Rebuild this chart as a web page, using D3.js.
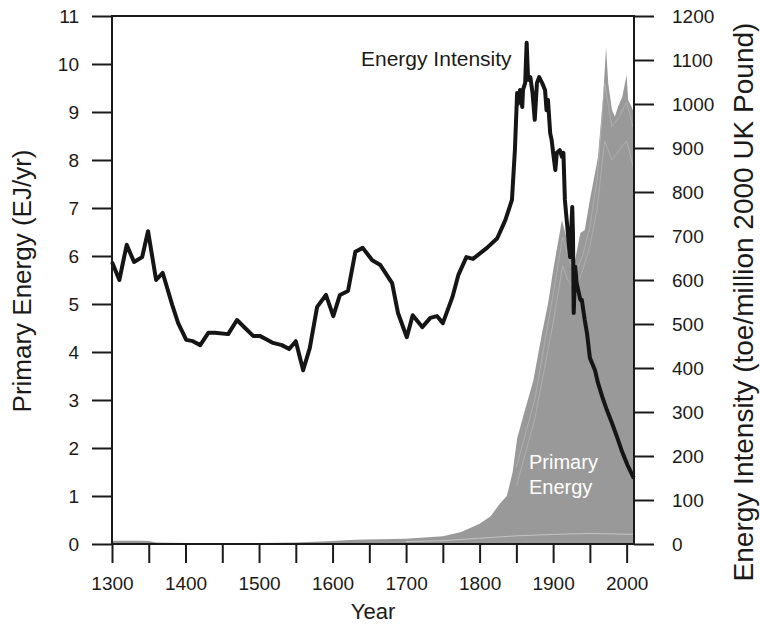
<!DOCTYPE html>
<html>
<head>
<meta charset="utf-8">
<script src="https://cdn.jsdelivr.net/npm/d3@7"></script>
<style>
  body { margin: 0; background: #fff; }
  svg { font-family: "Liberation Sans", Arial, Helvetica, sans-serif; }
  .axis text { fill: #1a1a1a; font-size: 19px; }
  .axis line { stroke: #1a1a1a; stroke-width: 2; }
</style>
</head>
<body>
<script>
// energy intensity (toe / million 2000 UK pound)
var eiYears = [1300,1310,1320,1330,1341,1349,1360,1369,1382,1390,1401,1410,1420,1431,1440,1458,1470,1481,1492,1501,1511,1519,1531,1541,1550,1560,1569,1579,1591,1601,1610,1621,1631,1641,1654,1665,1681,1689,1701,1709,1722,1733,1742,1750,1763,1771,1782,1791,1810,1824,1835,1844,1848,1851,1852,1855,1858,1859,1862,1864,1866,1869,1872,1875,1878,1881,1885,1889,1891,1893,1896,1898,1900,1903,1905,1909,1912,1914,1916,1920,1923,1926,1927,1928,1930,1932,1937,1939,1943,1946,1950,1957,1961,1967,1973,1980,1987,1994,2001,2009,2010];
var eiValues = [641,600,680,641,652,711,600,616,543,502,464,461,452,480,480,477,509,491,473,473,464,457,452,443,461,395,445,539,566,518,566,575,664,673,645,634,593,525,470,520,493,514,518,502,561,611,652,648,673,695,736,782,895,1025,1000,1032,993,1032,1048,1139,1055,1061,1025,964,1048,1061,1048,1032,986,1009,934,918,889,850,889,895,880,889,782,707,652,766,707,525,630,593,555,555,509,480,423,395,366,334,305,275,243,209,180,152,150];

// primary energy (EJ/yr): upper envelope of the ensemble and a few members
var peYears = [1300,1340,1350,1360,1400,1500,1550,1600,1630,1700,1750,1775,1800,1815,1828,1837,1845,1851,1860,1873,1885,1893,1900,1912,1919,1930,1937,1943,1950,1957,1961,1968,1972,1975,1980,1984,1988,1994,2000,2002,2007,2010];
var peMax = [0.07,0.07,0.06,0.03,0.02,0.02,0.03,0.06,0.09,0.11,0.16,0.25,0.42,0.58,0.85,1.0,1.5,2.2,2.7,3.4,4.4,5.0,5.7,6.75,6.33,5.92,6.48,6.54,7.17,7.73,8.06,9.31,10.35,9.6,9.04,8.9,9.1,9.31,9.77,9.25,9.1,8.98];
var memberYears = [1850,1875,1900,1913,1920,1930,1940,1950,1960,1970,1980,1990,2000,2010];
var memberA = [1.6,3.0,5.2,6.4,6.0,5.6,6.0,6.6,7.6,9.6,8.7,8.9,9.2,8.6];
var memberB = [1.2,2.6,4.6,5.8,5.5,5.3,5.7,6.2,7.0,8.4,8.0,8.2,8.4,7.8];
var lowYears = [1700,1750,1800,1850,1900,1950,2010];
var lowMember = [0.05,0.07,0.12,0.17,0.2,0.22,0.2];

var leftTicks = d3.range(0, 12);
var rightTicks = d3.range(0, 1300, 100);
var yearTicks = d3.range(1300, 2001, 50);
var yearLabels = d3.range(1300, 2001, 100);

var W = 760, H = 625;
var pLeft = 112, pRight = 634, pTop = 16, pBottom = 544;

var svg = d3.select("body").append("svg")
  .attr("width", W)
  .attr("height", H);

var x = d3.scaleLinear().domain([1300, 2010]).range([pLeft, pRight]);
var yE = d3.scaleLinear().domain([0, 11]).range([pBottom, pTop]);
var yI = d3.scaleLinear().domain([0, 1200]).range([pBottom, pTop]);

// gray ensemble area
var peData = peYears.map(function(d, i){ return {year: d, v: peMax[i]}; });
svg.append("path")
  .datum(peData)
  .attr("d", d3.area()
    .x(function(d){ return x(d.year); })
    .y0(yE(0))
    .y1(function(d){ return yE(d.v); }))
  .style("fill", "#999999");

// lighter members inside the ensemble
var memberLine = d3.line()
  .x(function(d){ return x(d.year); })
  .y(function(d){ return yE(d.v); });
[memberA, memberB].forEach(function(arr){
  svg.append("path")
    .datum(memberYears.map(function(d, i){ return {year: d, v: arr[i]}; }))
    .attr("d", memberLine)
    .style("fill", "none")
    .style("stroke", "#b4b4b4")
    .style("stroke-width", 0.8);
});
svg.append("path")
  .datum(lowYears.map(function(d, i){ return {year: d, v: lowMember[i]}; }))
  .attr("d", memberLine)
  .style("fill", "none")
  .style("stroke", "#c4c4c4")
  .style("stroke-width", 1);

// energy intensity line
var eiData = eiYears.map(function(d, i){ return {year: d, v: eiValues[i]}; });
svg.append("path")
  .datum(eiData)
  .attr("d", d3.line()
    .x(function(d){ return x(d.year); })
    .y(function(d){ return yI(d.v); }))
  .style("fill", "none")
  .style("stroke", "#151515")
  .style("stroke-width", 4)
  .style("stroke-linejoin", "round");

// frame
svg.append("rect")
  .attr("x", pLeft).attr("y", pTop)
  .attr("width", pRight - pLeft).attr("height", pBottom - pTop)
  .style("fill", "none")
  .style("stroke", "#1a1a1a")
  .style("stroke-width", 2);

// axes
var gl = svg.append("g").attr("class", "axis")
  .attr("transform", "translate(" + pLeft + ",0)")
  .call(d3.axisLeft(yE).tickValues(leftTicks).tickSize(20).tickPadding(13).tickFormat(d3.format("d")));
gl.select(".domain").remove();

var gr = svg.append("g").attr("class", "axis")
  .attr("transform", "translate(" + pRight + ",0)")
  .call(d3.axisRight(yI).tickValues(rightTicks).tickSize(20).tickPadding(18).tickFormat(d3.format("d")));
gr.select(".domain").remove();

var gb = svg.append("g").attr("class", "axis")
  .attr("transform", "translate(0," + pBottom + ")")
  .call(d3.axisBottom(x).tickValues(yearTicks).tickSize(19).tickPadding(14)
    .tickFormat(function(d){ return yearLabels.indexOf(d) >= 0 ? d : ""; }));
gb.select(".domain").remove();

// titles
svg.append("text")
  .attr("transform", "translate(31,281) rotate(-90)")
  .attr("text-anchor", "middle")
  .style("font-size", "26px")
  .style("fill", "#1a1a1a")
  .text("Primary Energy (EJ/yr)");

svg.append("text")
  .attr("transform", "translate(753,302) rotate(-90)")
  .attr("text-anchor", "middle")
  .style("font-size", "28px")
  .style("fill", "#1a1a1a")
  .text("Energy Intensity (toe/million 2000 UK Pound)");

svg.append("text")
  .attr("x", 373).attr("y", 619)
  .attr("text-anchor", "middle")
  .style("font-size", "22px")
  .style("fill", "#1a1a1a")
  .text("Year");

// inline labels
svg.append("text")
  .attr("x", 361).attr("y", 66)
  .style("font-size", "21px")
  .style("fill", "#1a1a1a")
  .text("Energy Intensity");

var pe = svg.append("text")
  .attr("x", 529).attr("y", 469)
  .style("font-size", "20px")
  .style("fill", "#ffffff");
pe.append("tspan").attr("x", 529).text("Primary");
pe.append("tspan").attr("x", 529).attr("dy", 25).text("Energy");
</script>
</body>
</html>
